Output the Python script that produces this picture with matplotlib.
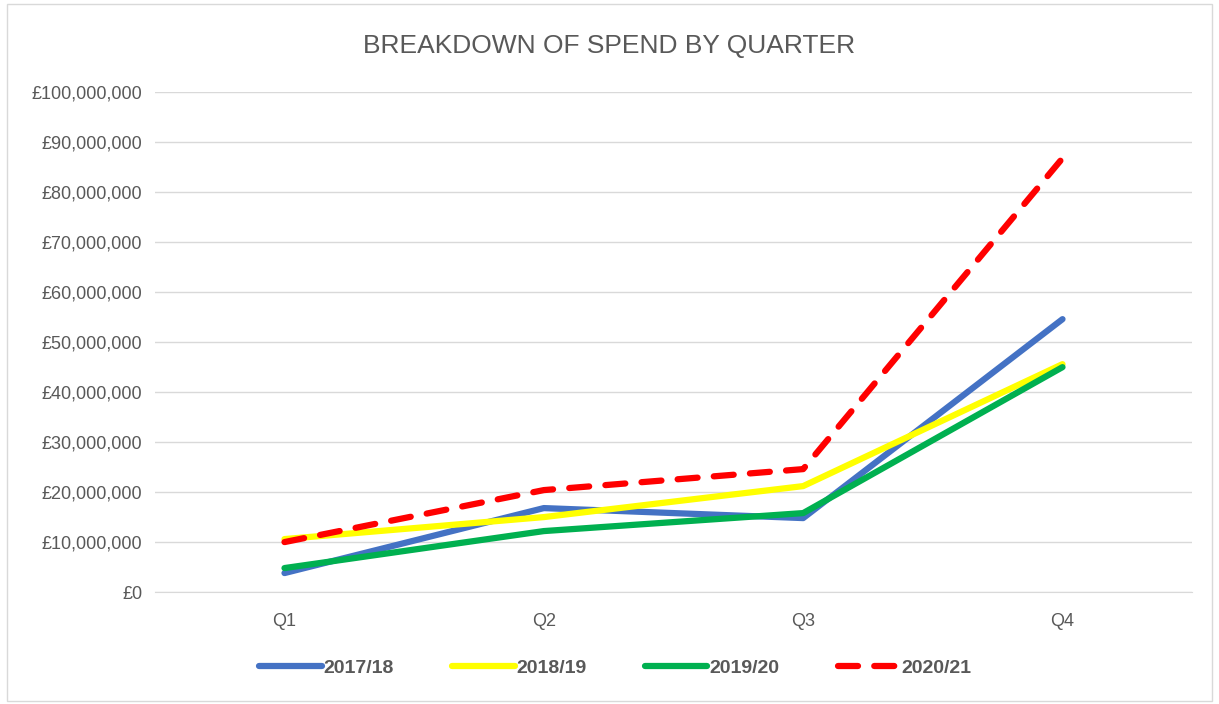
import numpy as np
import matplotlib.pyplot as plt
from matplotlib.ticker import FuncFormatter
from matplotlib.patches import Rectangle

plt.rcParams['font.family'] = ['Liberation Sans', 'DejaVu Sans']

quarters = ["Q1", "Q2", "Q3", "Q4"]
spend_1718 = [3.8e6, 16.8e6, 14.8e6, 54.6e6]
spend_1819 = [10.6e6, 15.0e6, 21.2e6, 45.6e6]
spend_1920 = [4.8e6, 12.2e6, 15.8e6, 45.0e6]
spend_2021 = [10.0e6, 20.4e6, 24.6e6, 86.8e6]

fig = plt.figure(figsize=(12.19, 7.04), dpi=100)
ax = fig.add_axes([0.127, 0.159, 0.851, 0.710])

x = np.arange(len(quarters))
lw = 4.5
ax.plot(x, spend_1718, color='#4472C4', lw=lw, label='2017/18', solid_capstyle='round')
ax.plot(x, spend_1819, color='#FFFF00', lw=lw, label='2018/19', solid_capstyle='round')
ax.plot(x, spend_1920, color='#00B050', lw=lw, label='2019/20', solid_capstyle='round')
ax.plot(x, spend_2021, color='#FF0000', lw=lw, label='2020/21', linestyle=(0, (3.2, 2.6)),
        dash_capstyle='round')

ax.set_xlim(-0.5, 3.5)
ax.set_ylim(0, 100e6)
ax.set_yticks(np.arange(0, 100e6 + 1, 10e6))
ax.yaxis.set_major_formatter(FuncFormatter(lambda v, p: f"£{v:,.0f}"))
ax.set_xticks(x)
ax.set_xticklabels(quarters)
ax.tick_params(axis='both', length=0, labelsize=13, colors='#595959')
ax.tick_params(axis='y', pad=9)
ax.tick_params(axis='x', pad=15)
ax.grid(axis='y', color='#D9D9D9', lw=1)
ax.set_axisbelow(True)
for s in ax.spines.values():
    s.set_visible(False)
ax.spines['bottom'].set_visible(True)
ax.spines['bottom'].set_color('#D9D9D9')

fig.text(0.5, 0.934, "BREAKDOWN OF SPEND BY QUARTER", ha='center', va='center',
         fontsize=19, color='#595959')

leg = fig.legend(loc='center', bbox_to_anchor=(0.505, 0.051), ncol=4, frameon=False,
                 prop={'weight': 'bold', 'size': 14}, handlelength=3.2, columnspacing=3.0,
                 handletextpad=0.1)
for t in leg.get_texts():
    t.set_color('#595959')

fig.patches.append(Rectangle((0.006, 0.004), 0.988, 0.99, transform=fig.transFigure,
                             fill=False, edgecolor='#D9D9D9', lw=1))

fig.savefig("out.png", dpi=100)
